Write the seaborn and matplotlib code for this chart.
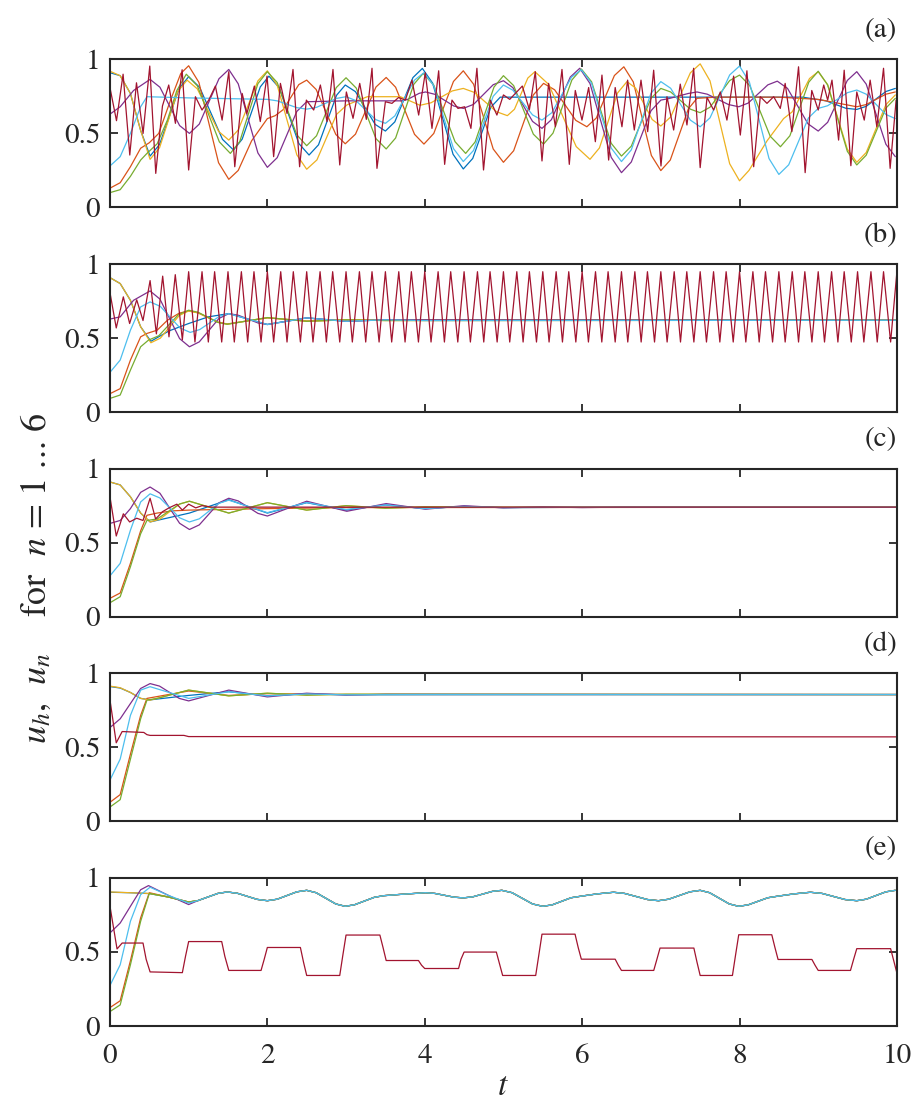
import pandas as pd
import seaborn as sns
import matplotlib.pyplot as plt

# series order as drawn (MATLAB default colour order), u_h drawn last
SERIES = ['n1', 'n2', 'n3', 'n4', 'n5', 'n6', 'uh']
COLORS = ['#0072BD', '#D95319', '#EDB120', '#7E2F8E', '#77AC30', '#4DBEEE', '#A2142F']
PANEL_TAGS = ['(a)', '(b)', '(c)', '(d)', '(e)']
X_TICKS = [0, 2, 4, 6, 8, 10]
Y_TICKS = [0, 0.5, 1]
Y_TICK_LABELS = ['0', '0.5', '1']

# ---- panel (a): (t, u) ----
A_BLUE = [(0, .91), (0.13, .89), (0.26, .77), (0.39, .52), (0.51, .347), (0.63, .425), (0.88, .805),
          (1.0, .883), (1.14, .811), (1.43, .460), (1.57, .388), (1.68, .461), (1.91, .814), (2.02, .887),
          (2.15, .809), (2.40, .432), (2.53, .354), (2.65, .423), (2.88, .758), (2.99, .827), (3.12, .782),
          (3.37, .561), (3.5, .516), (3.62, .578), (3.85, .877), (3.97, .939), (4.10, .840), (4.36, .359),
          (4.49, .26), (4.61, .331), (4.84, .677), (4.96, .745), (5.5, .745), (6.5, .745), (7.5, .745),
          (8.8, .745), (9.1, .72), (9.35, .67), (9.49, .662), (9.61, .683), (9.86, .783), (9.98, .804)]
A_ORANGE = [(0, .13), (0.13, .167), (0.26, .275), (0.39, .40), (0.5, .437), (0.62, .5), (0.77, .725),
            (0.9, .905), (1.0, .957), (1.13, .845), (1.38, .302), (1.51, .19), (1.63, .25), (1.8, .45),
            (2.0, .60), (2.1, .62), (2.2, .66), (2.4, .83), (2.5, .86), (2.62, .797), (2.87, .493),
            (2.99, .43), (3.12, .495), (3.38, .813), (3.51, .878), (3.63, .812), (3.87, .494), (3.99, .428),
            (4.115, .500), (4.365, .851), (4.49, .923), (4.62, .833), (4.87, .395), (5.0, .305),
            (5.13, .383), (5.38, .760), (5.51, .838), (5.65, .795), (5.92, .588), (6.06, .545),
            (6.18, .604), (6.41, .891), (6.53, .95), (6.65, .848), (6.88, .351), (7.0, .249),
            (7.12, .320), (7.35, .666), (7.46, .737), (7.7, .745), (8.5, .745), (9.0, .73), (9.49, .68),
            (9.61, .695), (9.86, .765), (9.98, .78)]
A_YELLOW = [(0, .92), (0.13, .89), (0.26, .77), (0.39, .52), (0.51, .325), (0.63, .403), (0.86, .782),
            (0.98, .86), (1.11, .801), (1.38, .514), (1.51, .455), (1.63, .523), (1.88, .855), (2.0, .923),
            (2.125, .826), (2.375, .355), (2.5, .258), (2.63, .321), (2.88, .629), (3.01, .692),
            (3.27, .748), (3.69, .748), (3.94, .69), (4.08, .707), (4.35, .787), (4.49, .804),
            (4.63, .777), (4.91, .647), (5.05, .62), (5.14, .663), (5.31, .874), (5.4, .917),
            (5.575, .831), (5.925, .411), (6.1, .325), (6.22, .402), (6.45, .773), (6.57, .85),
            (6.68, .806), (6.89, .594), (7.0, .55), (7.125, .611), (7.375, .909), (7.5, .97),
            (7.625, .855), (7.875, .295), (8.0, .18), (8.12, .25), (8.35, .45), (8.56, .60), (8.67, .646),
            (8.89, .871), (9.0, .917), (9.12, .828), (9.37, .394), (9.49, .305), (9.61, .371),
            (9.86, .694), (9.98, .76)]
A_PURPLE = [(0, .63), (0.13, .68), (0.3, .79), (0.51, .865), (0.635, .812), (0.885, .553), (1.01, .50),
            (1.135, .563), (1.385, .869), (1.51, .932), (1.63, .835), (1.88, .368), (2.0, .271),
            (2.125, .336), (2.375, .649), (2.5, .714), (3.0, .72), (3.7, .72), (3.78, .729), (3.93, .771),
            (4.01, .78), (4.13, .764), (4.37, .685), (4.49, .669), (4.62, .696), (4.87, .829), (5.0, .856),
            (5.12, .809), (5.37, .581), (5.49, .534), (5.61, .593), (5.85, .881), (5.97, .94),
            (6.10, .837), (6.37, .338), (6.5, .235), (6.625, .307), (6.875, .653), (7.0, .725),
            (7.1, .735), (7.35, .77), (7.46, .78), (7.59, .765), (7.86, .695), (7.99, .68), (8.11, .705),
            (8.36, .828), (8.48, .853), (8.61, .804), (8.87, .565), (9.0, .516), (9.12, .575),
            (9.37, .858), (9.49, .917), (9.61, .833), (9.86, .427), (9.98, .343)]
A_GREEN = [(0, .10), (0.13, .12), (0.26, .21), (0.39, .32), (0.47, .365), (0.6, .43), (0.73, .59),
           (0.85, .79), (0.97, .90), (1.11, .822), (1.39, .443), (1.53, .365), (1.65, .446), (1.88, .836),
           (2.0, .917), (2.125, .844), (2.375, .490), (2.5, .417), (2.625, .484), (2.875, .809),
           (3.0, .876), (3.13, .806), (3.38, .465), (3.51, .395), (3.63, .469), (3.86, .831), (3.98, .905),
           (4.115, .826), (4.385, .444), (4.52, .365), (4.64, .442), (4.88, .813), (5.0, .89),
           (5.13, .823), (5.38, .495), (5.51, .428), (5.63, .502), (5.87, .861), (5.99, .935),
           (6.12, .849), (6.37, .433), (6.5, .347), (6.625, .414), (6.875, .737), (7.0, .804),
           (7.125, .780), (7.375, .664), (7.5, .64), (7.625, .677), (7.875, .857), (8.0, .894),
           (8.13, .823), (8.39, .481), (8.52, .41), (8.64, .484), (8.88, .846), (9.0, .92), (9.12, .828),
           (9.37, .379), (9.49, .287), (9.61, .353), (9.86, .671), (9.98, .737)]
A_CYAN = [(0, .28), (0.13, .343), (0.26, .5), (0.39, .68), (0.47, .748), (1.0, .74), (1.5, .735),
          (2.0, .73), (2.125, .72), (2.375, .674), (2.5, .664), (2.625, .676), (2.875, .736), (3.0, .748),
          (3.125, .722), (3.375, .594), (3.5, .568), (3.62, .618), (3.87, .860), (3.99, .91),
          (4.115, .822), (4.365, .398), (4.49, .31), (4.62, .385), (4.87, .751), (5.0, .827),
          (5.12, .792), (5.37, .625), (5.49, .59), (5.615, .640), (5.865, .880), (5.99, .93),
          (6.12, .839), (6.37, .401), (6.5, .31), (6.625, .389), (6.875, .771), (7.0, .85),
          (7.125, .805), (7.375, .590), (7.5, .545), (7.625, .605), (7.875, .895), (8.0, .955),
          (8.125, .848), (8.375, .330), (8.5, .223), (8.625, .288), (8.875, .604), (9.0, .669),
          (9.12, .687), (9.37, .775), (9.49, .793), (9.61, .765), (9.86, .628), (9.98, .60)]
A_RED = [(0, .81), (.083, .586), (.167, .90), (.252, .354), (.337, .842), (.421, .50), (.506, .955),
         (.582, .23), (.667, .685), (.747, .827), (.832, .568), (.917, .93), (1.0, .253), (1.086, .748),
         (1.17, .658), (1.255, .725), (1.34, .82), (1.425, .59), (1.51, .917), (1.586, .275), (1.68, .77),
         (1.74, .635), (1.835, .82), (1.91, .58), (1.996, .887), (2.08, .343), (2.166, .838), (2.25, .635),
         (2.326, .932), (2.41, .275), (2.496, .725), (2.589, .658), (2.674, .827), (2.758, .58),
         (2.834, .932), (2.92, .287), (3.004, .78), (3.089, .602), (3.174, .838), (3.258, .595),
         (3.33, .94), (3.393, .264), (3.50, .714), (3.584, .703), (3.668, .743), (3.753, .725),
         (3.838, .86), (3.923, .624), (4.007, .91), (4.092, .534), (4.177, .923), (4.253, .291),
         (4.346, .725), (4.422, .669), (4.507, .68), (4.587, .534), (4.663, .94), (4.747, .253),
         (4.833, .725), (4.917, .624), (5.0, .76), (5.08, .73), (5.24, .82), (5.33, .66), (5.405, .917),
         (5.49, .314), (5.574, .838), (5.66, .545), (5.744, .932), (5.837, .291), (5.913, .79),
         (5.998, .59), (6.083, .81), (6.168, .444), (6.252, .894), (6.337, .32), (6.42, .81),
         (6.506, .545), (6.578, .86), (6.663, .523), (6.748, .86), (6.833, .512), (6.909, .927),
         (7.002, .28), (7.078, .748), (7.163, .523), (7.247, .833), (7.332, .557), (7.417, .94),
         (7.5, .269), (7.587, .743), (7.671, .658), (7.756, .78), (7.84, .59), (7.925, .887),
         (8.01, .489), (8.094, .923), (8.18, .275), (8.264, .748), (8.349, .703), (8.434, .748),
         (8.518, .669), (8.58, .838), (8.665, .512), (8.75, .95), (8.834, .235), (8.918, .79),
         (9.0, .658), (9.07, .827), (9.12, .725), (9.175, .86), (9.259, .455), (9.33, .927),
         (9.415, .282), (9.49, .78), (9.585, .59), (9.66, .86), (9.745, .545), (9.83, .94),
         (9.914, .264), (9.99, .725)]

# ---- panel (b) ----
B_BLUE = [(0, .91), (0.13, .87), (0.26, .757), (0.39, .578), (0.52, .48), (0.75, .55), (1.0, .60),
          (1.25, .645), (1.51, .667), (1.75, .63), (2.0, .594), (2.5, .638), (3.0, .615), (3.5, .625),
          (10, .622)]
B_ORANGE = [(0, .126), (0.13, .16), (0.26, .353), (0.39, .51), (0.47, .533), (0.6, .555), (0.73, .622),
            (0.88, .670), (1.0, .685), (1.12, .672), (1.37, .610), (1.49, .597), (2.0, .638), (2.5, .617),
            (3.0, .624), (10, .622)]
B_YELLOW = [(0, .91), (0.13, .87), (0.26, .757), (0.39, .578), (0.52, .47), (0.64, .501), (0.88, .654),
            (1.0, .685), (1.12, .672), (1.37, .608), (1.49, .595), (2.0, .64), (2.5, .615), (3.0, .625),
            (3.5, .62), (10, .622)]
B_PURPLE = [(0, .63), (0.13, .645), (0.3, .757), (0.51, .82), (0.635, .765), (0.885, .498), (1.01, .443),
            (1.135, .476), (1.385, .634), (1.51, .667), (1.63, .656), (1.88, .604), (2.0, .593),
            (2.5, .638), (3.0, .615), (3.5, .625), (10, .622)]
B_GREEN = [(0, .094), (0.13, .117), (0.26, .285), (0.39, .443), (0.49, .488), (0.62, .517), (0.87, .660),
           (1.0, .69), (1.12, .676), (1.37, .608), (1.49, .595), (2.0, .64), (2.5, .615), (3.0, .625),
           (3.5, .62), (10, .622)]
B_CYAN = [(0, .27), (0.13, .353), (0.26, .555), (0.39, .712), (0.51, .746), (0.64, .716), (0.89, .570),
          (1.02, .54), (1.14, .559), (1.39, .648), (1.51, .667), (2.0, .593), (2.5, .638), (3.0, .615),
          (3.5, .625), (4, .62), (10, .622)]
B_RED = [(0, .81), (.08, .57), (.17, .78), (.25, .60), (.34, .76), (.42, .62), (.51, .89), (.59, .53),
         (.67, .92), (.75, .51), (.83, .93), (.92, .49),
         (1.00, .95), (1.08, .475), (1.17, .95), (1.25, .475), (1.33, .95), (1.42, .475),
         (1.50, .95), (1.58, .475), (1.67, .95), (1.75, .475), (1.83, .95), (1.92, .475),
         (2.00, .95), (2.08, .475), (2.17, .95), (2.25, .475), (2.33, .95), (2.42, .475),
         (2.50, .95), (2.58, .475), (2.67, .95), (2.75, .475), (2.83, .95), (2.92, .475),
         (3.00, .95), (3.08, .475), (3.17, .95), (3.25, .475), (3.33, .95), (3.42, .475),
         (3.50, .95), (3.58, .475), (3.67, .95), (3.75, .475), (3.83, .95), (3.92, .475),
         (4.00, .95), (4.08, .475), (4.17, .95), (4.25, .475), (4.33, .95), (4.42, .475),
         (4.50, .95), (4.58, .475), (4.67, .95), (4.75, .475), (4.83, .95), (4.92, .475),
         (5.00, .95), (5.08, .475), (5.17, .95), (5.25, .475), (5.33, .95), (5.42, .475),
         (5.50, .95), (5.58, .475), (5.67, .95), (5.75, .475), (5.83, .95), (5.92, .475),
         (6.00, .95), (6.08, .475), (6.17, .95), (6.25, .475), (6.33, .95), (6.42, .475),
         (6.50, .95), (6.58, .475), (6.67, .95), (6.75, .475), (6.83, .95), (6.92, .475),
         (7.00, .95), (7.08, .475), (7.17, .95), (7.25, .475), (7.33, .95), (7.42, .475),
         (7.50, .95), (7.58, .475), (7.67, .95), (7.75, .475), (7.83, .95), (7.92, .475),
         (8.00, .95), (8.08, .475), (8.17, .95), (8.25, .475), (8.33, .95), (8.42, .475),
         (8.50, .95), (8.58, .475), (8.67, .95), (8.75, .475), (8.83, .95), (8.92, .475),
         (9.00, .95), (9.08, .475), (9.17, .95), (9.25, .475), (9.33, .95), (9.42, .475),
         (9.50, .95), (9.58, .475), (9.67, .95), (9.75, .475), (9.83, .95), (9.92, .475),
         (10.0, .95)]

# ---- panel (c) ----
C_BLUE = [(0, .91), (0.13, .89), (0.26, .81), (0.39, .70), (0.51, .64), (1.01, .70), (1.51, .79),
          (2.0, .70), (2.5, .77), (3.0, .72), (3.5, .755), (4.0, .73), (4.5, .745), (5.0, .737),
          (6, .739), (10, .739)]
C_ORANGE = [(0, .124), (0.13, .16), (0.26, .36), (0.39, .58), (0.47, .685), (0.6, .70), (0.8, .715),
            (1.0, .72), (1.5, .725), (2.0, .73), (3.0, .737), (10, .739)]
C_YELLOW = [(0, .91), (0.13, .89), (0.26, .81), (0.39, .70), (0.51, .64), (0.635, .659), (0.885, .761),
            (1.01, .78), (1.51, .70), (2.0, .77), (2.5, .72), (3.0, .75), (3.5, .733), (4.0, .742),
            (5, .739), (10, .739)]
C_PURPLE = [(0, .63), (0.13, .65), (0.26, .73), (0.39, .84), (0.51, .876), (0.635, .834), (0.885, .631),
            (1.01, .589), (1.135, .620), (1.385, .769), (1.51, .80), (1.63, .782), (1.88, .698),
            (2.0, .68), (2.5, .78), (3.01, .712), (3.51, .764), (4.01, .726), (4.5, .75), (5.0, .735),
            (5.5, .742), (6.0, .737), (6.5, .74), (10, .739)]
C_GREEN = [(0, .094), (0.13, .135), (0.26, .337), (0.39, .56), (0.47, .65), (0.6, .66), (0.885, .761),
           (1.01, .78), (1.51, .70), (2.0, .77), (2.5, .72), (3.0, .75), (3.5, .733), (4.0, .742),
           (5, .739), (10, .739)]
C_CYAN = [(0, .276), (0.13, .36), (0.26, .584), (0.39, .775), (0.51, .83), (0.635, .802), (0.885, .668),
          (1.01, .64), (1.135, .661), (1.385, .766), (1.51, .787), (2.0, .703), (2.5, .771), (3.0, .724),
          (3.51, .755), (4.0, .73), (4.5, .745), (5, .737), (6, .739), (10, .739)]
C_RED = [(0, .81), (.08, .545), (.17, .695), (.25, .64), (.34, .665), (.42, .65), (.51, .80), (.58, .66),
         (.67, .71), (.75, .735), (.85, .76), (.92, .72), (1.0, .76), (1.09, .735), (1.17, .75),
         (1.3, .74), (10, .74)]

# ---- panel (d) ----
D_BLUE = [(0, .91), (0.13, .90), (0.26, .87), (0.39, .83), (0.51, .82), (1.0, .85), (1.51, .875),
          (2.0, .848), (2.5, .86), (3.0, .855), (10, .856)]
D_ORANGE = [(0, .128), (0.13, .18), (0.26, .453), (0.39, .715), (0.47, .83), (1.0, .88), (1.51, .85),
            (2.0, .862), (3.0, .856), (10, .856)]
D_YELLOW = [(0, .913), (0.13, .902), (0.26, .87), (0.39, .83), (0.51, .818), (1.0, .886), (1.51, .847),
            (2.0, .865), (2.5, .852), (3.0, .858), (10, .856)]
D_PURPLE = [(0, .633), (0.13, .692), (0.26, .795), (0.39, .897), (0.51, .93), (0.63, .913), (0.88, .83),
            (1.0, .813), (1.51, .886), (2.0, .84), (2.5, .865), (3.0, .852), (3.5, .858), (10, .856)]
D_GREEN = [(0, .096), (0.13, .146), (0.26, .419), (0.39, .692), (0.47, .818), (0.6, .83), (1.0, .886),
           (1.51, .847), (2.0, .865), (2.5, .852), (3.0, .858), (10, .856)]
D_CYAN = [(0, .278), (0.13, .42), (0.26, .715), (0.39, .886), (0.51, .909), (1.0, .83), (1.51, .875),
          (2.0, .847), (2.5, .86), (3.0, .854), (4, .856), (10, .856)]
D_RED = [(0, .82), (.08, .53), (.155, .606), (.43, .60), (.47, .585), (.51, .58), (.94, .58),
         (1.0, .572), (10, .57)]

# ---- panel (e): the six n-curves share one trajectory after t ~ 1 ----
E_UPPER = [(1.0, .837), (1.12, .847), (1.37, .895), (1.49, .905), (1.62, .896), (1.87, .855), (2.0, .846),
           (2.125, .856), (2.375, .906), (2.5, .916), (2.62, .900), (2.87, .824), (2.99, .808),
           (3.11, .819), (3.36, .869), (3.48, .88), (3.7, .889), (4.01, .90), (4.13, .895), (4.37, .870),
           (4.49, .865), (4.61, .872), (4.86, .909), (4.98, .916), (5.11, .900), (5.37, .824), (5.5, .808),
           (5.62, .818), (5.86, .866), (5.98, .876), (6.19, .892), (6.4, .903), (6.54, .895), (6.83, .854),
           (6.97, .846), (7.10, .856), (7.37, .906), (7.5, .916), (7.62, .900), (7.87, .824), (7.99, .808),
           (8.11, .818), (8.36, .866), (8.48, .876), (8.69, .892), (8.9, .903), (9.05, .895), (9.34, .854),
           (9.49, .846), (9.61, .856), (9.86, .906), (9.98, .916)]
E_BLUE = [(0, .903), (0.25, .90), (0.5, .894), (0.75, .87)] + E_UPPER
E_ORANGE = [(0, .124), (0.13, .17), (0.26, .44), (0.39, .73), (0.5, .90), (0.75, .87)] + E_UPPER
E_YELLOW = [(0, .905), (0.25, .90), (0.5, .895), (0.75, .87)] + E_UPPER
E_PURPLE = [(0, .628), (0.13, .695), (0.26, .808), (0.39, .92), (0.49, .948), (0.75, .88),
            (1.0, .82)] + E_UPPER[1:]
E_GREEN = [(0, .097), (0.13, .142), (0.26, .413), (0.39, .707), (0.5, .895), (0.75, .87)] + E_UPPER
E_CYAN = [(0, .273), (0.13, .413), (0.26, .707), (0.39, .887), (0.51, .937), (0.75, .88),
          (1.0, .83)] + E_UPPER[1:]
E_RED = [(0, .81), (.09, .52), (.155, .56), (.42, .56), (.46, .45), (.51, .365), (.92, .36), (.96, .47),
         (1.0, .57), (1.42, .57), (1.46, .47), (1.51, .375), (1.92, .375), (1.96, .45), (2.0, .53),
         (2.42, .53), (2.46, .43), (2.5, .341), (2.92, .341), (2.96, .48), (3.0, .614), (3.43, .614),
         (3.47, .53), (3.51, .442), (3.92, .442), (3.96, .41), (4.0, .388), (4.43, .388), (4.46, .45),
         (4.5, .499), (4.91, .499), (4.95, .42), (4.99, .341), (5.41, .341), (5.45, .48), (5.49, .62),
         (5.91, .62), (5.95, .53), (5.99, .451), (6.42, .451), (6.46, .41), (6.5, .375), (6.91, .375),
         (6.95, .45), (6.99, .526), (7.42, .526), (7.46, .43), (7.5, .341), (7.91, .341), (7.95, .48),
         (7.99, .616), (8.41, .616), (8.45, .53), (8.49, .449), (8.92, .449), (8.96, .41), (9.0, .375),
         (9.41, .375), (9.45, .45), (9.49, .522), (9.92, .522), (9.96, .44), (10.0, .357)]

PANELS = [
    [A_BLUE, A_ORANGE, A_YELLOW, A_PURPLE, A_GREEN, A_CYAN, A_RED],
    [B_BLUE, B_ORANGE, B_YELLOW, B_PURPLE, B_GREEN, B_CYAN, B_RED],
    [C_BLUE, C_ORANGE, C_YELLOW, C_PURPLE, C_GREEN, C_CYAN, C_RED],
    [D_BLUE, D_ORANGE, D_YELLOW, D_PURPLE, D_GREEN, D_CYAN, D_RED],
    [E_BLUE, E_ORANGE, E_YELLOW, E_PURPLE, E_GREEN, E_CYAN, E_RED],
]


def panel_frame(curves):
    rows = []
    for name, pts in zip(SERIES, curves):
        for t, u in pts:
            rows.append((name, t, u))
    return pd.DataFrame(rows, columns=['series', 't', 'u'])


def main():
    sns.set_style('ticks')
    plt.rcParams.update({
        'font.family': ['STIXGeneral', 'DejaVu Serif'],
        'mathtext.fontset': 'stix',
        'font.size': 21,
        'axes.edgecolor': '#262626',
        'axes.linewidth': 1.5,
        'xtick.direction': 'in',
        'ytick.direction': 'in',
        'xtick.color': '#262626',
        'ytick.color': '#262626',
        'xtick.major.size': 6,
        'ytick.major.size': 6,
        'xtick.major.width': 1.3,
        'ytick.major.width': 1.3,
    })

    fig = plt.figure(figsize=(9.14, 11.04), dpi=100)
    left, width, height = 0.1203, 0.861, 0.1341
    bottoms = [0.8121, 0.6265, 0.4414, 0.2561, 0.0707]

    palette = dict(zip(SERIES, COLORS))
    for i, (curves, tag, bottom) in enumerate(zip(PANELS, PANEL_TAGS, bottoms)):
        ax = fig.add_axes([left, bottom, width, height])
        df = panel_frame(curves)
        sns.lineplot(data=df, x='t', y='u', hue='series', hue_order=SERIES, palette=palette,
                     estimator=None, sort=False, legend=False, linewidth=0.9, ax=ax)
        ax.set_xlim(0, 10)
        ax.set_ylim(0, 1)
        ax.set_xticks(X_TICKS)
        ax.set_yticks(Y_TICKS)
        ax.set_yticklabels(Y_TICK_LABELS)
        ax.tick_params(top=True, right=True, labelsize=21)
        ax.tick_params(axis='y', pad=7)
        ax.tick_params(axis='x', pad=13)
        if i < len(PANELS) - 1:
            ax.set_xticklabels([])
        ax.set_xlabel('')
        ax.set_ylabel('')
        for side in ['top', 'right']:
            ax.spines[side].set_visible(True)
        ax.text(1.0, 1.196, tag, transform=ax.transAxes, ha='right', va='center', fontsize=21)

    fig.text(0.040, 0.476, r'$u_h$,  $u_n$    for  $n$ = $\mathit{1}$ ... $\mathit{6}$',
             rotation=90, ha='center', va='center', fontsize=26)
    fig.text(0.55, 0.015, r'$t$', ha='center', va='center', fontsize=24)

    fig.savefig('out.png', dpi=100)
    plt.close(fig)


if __name__ == '__main__':
    main()
